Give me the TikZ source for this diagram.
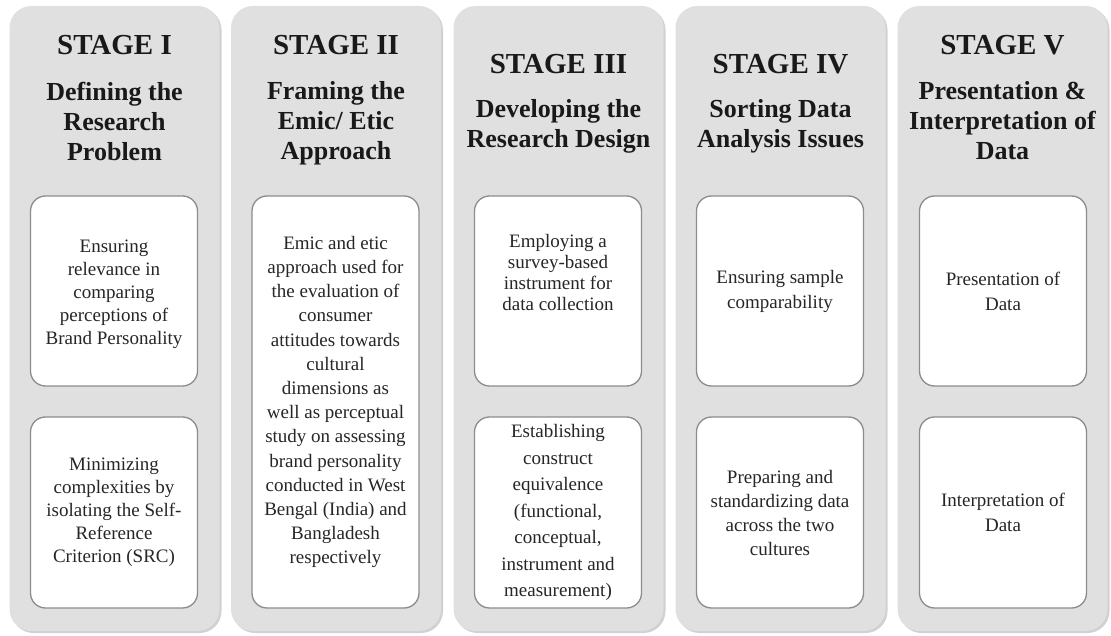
\documentclass[tikz,border=0pt]{standalone}
\usepackage{fontspec}
\setmainfont{Liberation Serif}
\begin{document}
\begin{tikzpicture}[x=1pt,y=-1pt,
  colbox/.style={fill=black!12, draw=none, rounded corners=22pt, minimum width=210pt, minimum height=625pt, inner sep=0pt},
  colshadow/.style={fill=black!18, draw=none, rounded corners=22pt, minimum width=210pt, minimum height=625pt, inner sep=0pt},
  itembox/.style={fill=white, draw=black!45, line width=1.3pt, rounded corners=15pt, minimum width=167pt, inner sep=0pt},
  stagehead/.style={font=\rmfamily\fontsize{29}{32}\selectfont\bfseries, text=black!90, inner sep=0pt, align=center},
  subhead/.style={font=\rmfamily\fontsize{26}{30}\selectfont\bfseries, text=black!90, inner sep=0pt, align=center},
  bodytext/.style={font=\rmfamily\fontsize{19}{23}\selectfont, text=black!85, inner sep=0pt, align=center}
]
\useasboundingbox (0,0) rectangle (1111,636);
\fill[white] (0,0) rectangle (1111,636);

% columns
\foreach \cx [count=\i] in {114.5,336,558.5,780.5,1002.5}{
  \node[colshadow] (sh\i) at (\cx+2,320.5) {};
  \node[colbox] (c\i) at (\cx,318.5) {};
}

% headings
\node[stagehead] (s1) at (114.5,45) {STAGE I};
\node[subhead] (h1) at (114.5,121) {Defining the\\Research\\Problem};
\node[stagehead] (s2) at (336,45) {STAGE II};
\node[subhead] (h2) at (336,123) {Framing the\\Emic/ Etic\\Approach};
\node[stagehead] (s3) at (558.5,64) {STAGE III};
\node[subhead] (h3) at (558.5,126) {Developing the\\Research Design};
\node[stagehead] (s4) at (780.5,64) {STAGE IV};
\node[subhead] (h4) at (780.5,126) {Sorting Data\\Analysis Issues};
\node[stagehead] (s5) at (1002.5,45) {STAGE V};
\node[subhead] (h5) at (1002.5,121) {Presentation \&\\Interpretation of\\Data};

% item boxes
\node[itembox, minimum height=190pt] (b11) at (114,291) {};
\node[itembox, minimum height=191pt] (b12) at (114,512.5) {};
\node[itembox, minimum height=412pt] (b21) at (335.5,402) {};
\node[itembox, minimum height=190pt] (b31) at (558,291) {};
\node[itembox, minimum height=191pt] (b32) at (558,512.5) {};
\node[itembox, minimum height=190pt] (b41) at (780,291) {};
\node[itembox, minimum height=191pt] (b42) at (780,512.5) {};
\node[itembox, minimum height=190pt] (b51) at (1003,291) {};
\node[itembox, minimum height=191pt] (b52) at (1003,512.5) {};

% texts
\node[bodytext] (t11) at (b11.center) [yshift=-3pt] {Ensuring\\relevance in\\comparing\\perceptions of\\Brand Personality};
\node[bodytext] (t12) at (b12.center) {Minimizing\\complexities by\\isolating the Self-\\Reference\\Criterion (SRC)};
\node[bodytext, font=\rmfamily\fontsize{19}{24.2}\selectfont] (t21) at (b21.center) {Emic and etic\\approach used for\\the evaluation of\\consumer\\attitudes towards\\cultural\\dimensions as\\well as perceptual\\study on assessing\\brand personality\\conducted in West\\Bengal (India) and\\Bangladesh\\respectively};
\node[bodytext, font=\rmfamily\fontsize{19}{21}\selectfont] (t31) at (558,273) {Employing a\\survey-based\\instrument for\\data collection};
\node[bodytext, font=\rmfamily\fontsize{19}{26.5}\selectfont] (t32) at (b32.center) {Establishing\\construct\\equivalence\\(functional,\\conceptual,\\instrument and\\measurement)};
\node[bodytext, font=\rmfamily\fontsize{19}{25}\selectfont] (t41) at (b41.center) {Ensuring sample\\comparability};
\node[bodytext, font=\rmfamily\fontsize{19}{24}\selectfont] (t42) at (b42.center) {Preparing and\\standardizing data\\across the two\\cultures};
\node[bodytext, font=\rmfamily\fontsize{19}{25}\selectfont] (t51) at (b51.center) {Presentation of\\Data};
\node[bodytext, font=\rmfamily\fontsize{19}{25}\selectfont] (t52) at (b52.center) {Interpretation of\\Data};
\end{tikzpicture}
\end{document}
